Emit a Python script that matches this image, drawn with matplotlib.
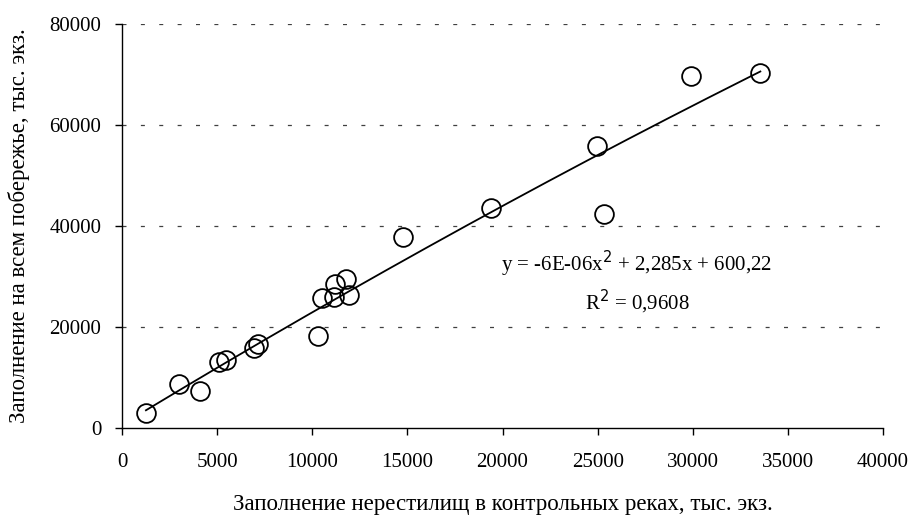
import numpy as np
import matplotlib
matplotlib.use("Agg")
import matplotlib.pyplot as plt

# spawning-ground fill in control rivers vs whole coast, thousand fish
rivers_fill = [1260, 2980, 4100, 5100, 5490, 6930, 7140, 10310,
               10520, 11130, 11220, 11750, 11940, 14770, 19390,
               24960, 25310, 29890, 33550]
coast_fill = [2970, 8590, 7330, 13070, 13400, 15720, 16510, 18160,
              25740, 25940, 28400, 29380, 26270, 37820, 43560,
              55780, 42300, 69700, 70300]

# polynomial trend as printed on the chart
trend_coef = [-6e-06, 2.285, 600.22]

x_ticks = [0, 5000, 10000, 15000, 20000, 25000, 30000, 35000, 40000]
y_ticks = [0, 20000, 40000, 60000, 80000]

plt.rcParams["font.family"] = ["Liberation Serif", "DejaVu Serif"]

fig = plt.figure(figsize=(9.17, 5.23), dpi=100)
ax = fig.add_axes([0.133, 0.182, 0.83, 0.773])

for yv in y_ticks[1:]:
    ax.axhline(yv, color="#404040", linestyle=(0, (3.2, 11.5)), linewidth=0.9,
               zorder=0)

xs = np.linspace(min(rivers_fill), max(rivers_fill), 200)
ax.plot(xs, np.polyval(trend_coef, xs), color="black", linewidth=1.3, zorder=2)

ax.plot(rivers_fill, coast_fill, linestyle="none", marker="o", markersize=13.5,
        markerfacecolor="none", markeredgecolor="black", markeredgewidth=1.3,
        zorder=3)

ax.set_xlim(0, 40000)
ax.set_ylim(0, 80000)
ax.set_xticks(x_ticks)
ax.set_yticks(y_ticks)
ax.tick_params(axis="both", direction="out", length=5, width=1, labelsize=15)
ax.tick_params(axis="x", pad=13)
ax.tick_params(axis="y", pad=10)

for side in ("top", "right"):
    ax.spines[side].set_visible(False)
for side in ("left", "bottom"):
    ax.spines[side].set_linewidth(1)

ax.set_xlabel("Заполнение нерестилищ в контрольных реках, тыс. экз.",
              fontsize=16.5, labelpad=16)
ax.set_ylabel("Заполнение на всем побережье, тыс. экз.", fontsize=16.5,
              labelpad=14)

ax.text(27070, 32400, "y = -6E-06x$^2$ + 2,285x + 600,22", ha="center",
        va="center", fontsize=15)
ax.text(27070, 24900, "R$^2$ = 0,9608", ha="center", va="center",
        fontsize=15)

fig.savefig("out.png", dpi=100)
